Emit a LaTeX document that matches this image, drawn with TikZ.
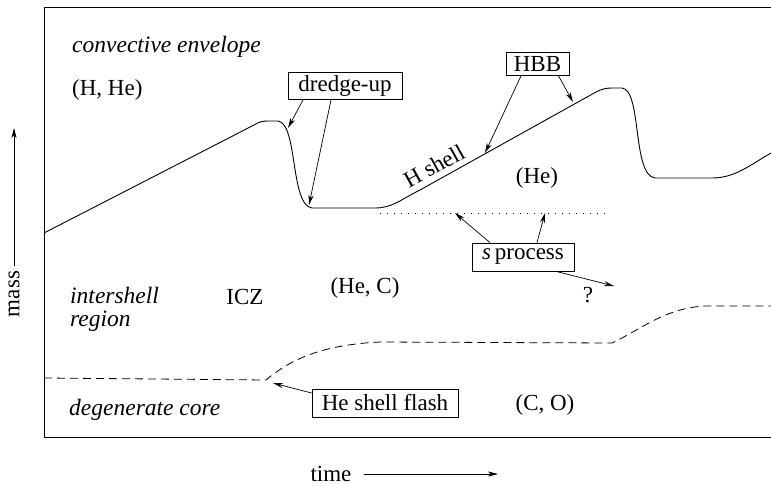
\documentclass[tikz,border=0pt]{standalone}
\usepackage{fontspec}
\setmainfont{Liberation Serif}
\usetikzlibrary{arrows.meta}
\begin{document}
\begin{tikzpicture}[x=1pt,y=-1pt,
  every node/.style={font=\fontsize{23}{27}\selectfont},
  lbl/.style={inner sep=0pt},
  ilbl/.style={inner sep=0pt,anchor=west,font=\fontsize{23.5}{27}\selectfont\itshape},
  boxed/.style={draw,line width=0.8pt,inner sep=0pt},
  arr/.style={line width=0.7pt,-{Stealth[length=10pt,width=5pt,inset=3pt]}},
  curve/.style={line width=0.9pt},
  frame/.style={line width=1pt}]
\useasboundingbox (0,0) rectangle (771,485);
% frame
\draw[frame] (771,7) -- (44,7) -- (44,437) -- (771,437);
% axes
\node[lbl,rotate=90] (mass) at (14,294) {mass};
\coordinate (mtip) at (14,128);
\draw[arr] (mass.east) ++(0,-5) -- (mtip);
\node[lbl] (time) at (331,474) {time};
\coordinate (ttip) at (498,474);
\draw[arr] ([xshift=12pt]time.east) -- (ttip);
% curves
\draw[curve] (44,233) -- (254,125) .. controls (259,122) and (262,121) .. (268,121)
  -- (278,121) .. controls (298,124) and (290,205) .. (312,208) -- (375,208)
  .. controls (392,208) and (400,200) .. (420,190) -- (596,92)
  .. controls (602,89) and (606,88) .. (612,88) -- (622,88)
  .. controls (642,90) and (632,175) .. (655,178) -- (712,178)
  .. controls (735,178) and (750,165) .. (771,153);
\draw[line width=0.8pt,dash pattern=on 1pt off 6pt] (380,213) -- (605,213);
\draw[line width=0.8pt,dash pattern=on 8pt off 5pt] (44,378) -- (266,380)
  .. controls (290,360) and (320,345) .. (380,342) -- (612,343)
  .. controls (640,330) and (665,308) .. (705,306) -- (771,306);
% region labels
\node[ilbl] (env) at (72,47) {convective envelope};
\node[lbl,anchor=west] (hhe) at (72,90) {(H, He)};
\node[ilbl,align=left] (inter) at (70,309) {intershell\\[-4pt]region};
\node[ilbl] (deg) at (69,410) {degenerate core};
\node[lbl] (icz) at (245,297) {ICZ};
\node[lbl] (hec) at (365,288) {(He, C)};
\node[lbl] (he) at (537,178) {(He)};
\node[lbl] (co) at (545,405) {(C, O)};
\node[lbl] (q) at (588,295) {?};
\node[lbl,rotate=29] (hsh) at (434,166) {H shell};
% boxes
\node[boxed,minimum width=114pt,minimum height=27pt] (du) at (345,86) {dredge-up};
\node[boxed,minimum width=63pt,minimum height=23pt] (hbb) at (537.5,64) {HBB};
\node[boxed,minimum width=102pt,minimum height=28pt] (sp) at (523,257) {\textit{s}\,process};
\node[boxed,minimum width=146pt,minimum height=28pt] (hsf) at (385,403) {He shell flash};
% arrow targets
\coordinate (du1) at (288,128);
\coordinate (du2) at (309,205);
\coordinate (hb1) at (485,153);
\coordinate (hb2) at (573,102);
\coordinate (sp1) at (455,213);
\coordinate (sp2) at (545,213);
\coordinate (sp3) at (614,286);
\coordinate (hf1) at (273,383);
\draw[arr] ([xshift=-42pt]du.south) -- (du1);
\draw[arr] ([xshift=-14pt]du.south) -- (du2);
\draw[arr] ([xshift=-16.5pt]hbb.south) -- (hb1);
\draw[arr] ([xshift=21pt]hbb.south) -- (hb2);
\draw[arr] ([xshift=-33pt]sp.north) -- (sp1);
\draw[arr] ([xshift=14pt]sp.north) -- (sp2);
\draw[arr] ([xshift=33pt]sp.south) -- (sp3);
\draw[arr] ([yshift=10pt]hsf.west) -- (hf1);
\end{tikzpicture}
\end{document}
